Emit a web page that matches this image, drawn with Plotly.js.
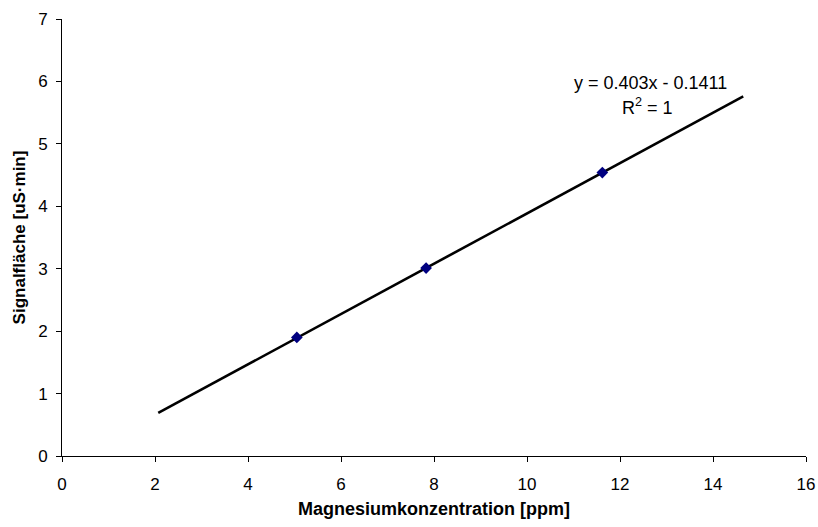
<!DOCTYPE html>
<html><head><meta charset="utf-8">
<script src="https://cdn.plot.ly/plotly-3.0.1.min.js"></script>
<style>body{margin:0;background:#fff}#c{width:818px;height:527px}</style>
</head><body><div id="c"></div>
<script>
const concentration = [5.05, 7.83, 11.62];
const signalArea = [1.90, 3.01, 4.54];
const trendX = [2.07, 14.65];
const trendY = [0.69, 5.76];
const equationLine = "y = 0.403x - 0.1411";
const r2Line = "R<sup>2</sup> = 1";
const xTicks = [0, 2, 4, 6, 8, 10, 12, 14, 16];
const yTicks = [0, 1, 2, 3, 4, 5, 6, 7];

const fam = "Liberation Sans, Arial, sans-serif";
const tickFont = {family: fam, size: 17, color: "#000"};
const titleFontX = {family: fam, size: 18, color: "#000", weight: "bold"};
const titleFontY = {family: fam, size: 17, color: "#000", weight: "bold"};
const annFont = {family: fam, size: 18, color: "#000"};
const data = [
  {x: trendX, y: trendY, mode: "lines", line: {color: "#000", width: 2.6}, hoverinfo: "skip"},
  {x: concentration, y: signalArea, mode: "markers",
   marker: {symbol: "diamond", size: 9, color: "#000080", line: {width: 0}}}
];
const axisCommon = {showgrid: false, zeroline: false, showline: true, linecolor: "#000", linewidth: 1,
  ticks: "outside", ticklen: 5, tickcolor: "#000", tickwidth: 1, tickfont: tickFont, mirror: false};
const layout = {
  width: 818, height: 527, showlegend: false,
  paper_bgcolor: "#fff", plot_bgcolor: "#fff", font: tickFont,
  margin: {l: 62, r: 12, t: 19, b: 71, pad: 0},
  xaxis: Object.assign({}, axisCommon, {range: [0, 16], tickvals: xTicks, ticktext: xTicks.map(String),
    ticklabelstandoff: 8,
    title: {text: "Magnesiumkonzentration [ppm]", font: titleFontX, standoff: 8}}),
  yaxis: Object.assign({}, axisCommon, {range: [0, 7], tickvals: yTicks, ticktext: yTicks.map(String),
    ticklabelstandoff: 5,
    title: {text: "Signalfläche [uS·min]", font: titleFontY, standoff: 8}}),
  annotations: [
    {x: 12.65, y: 5.98, xref: "x", yref: "y", text: equationLine, showarrow: false, font: annFont},
    {x: 12.6, y: 5.6, xref: "x", yref: "y", text: r2Line, showarrow: false, font: annFont}
  ]
};
Plotly.newPlot("c", data, layout, {displayModeBar: false, staticPlot: true});
</script></body></html>
